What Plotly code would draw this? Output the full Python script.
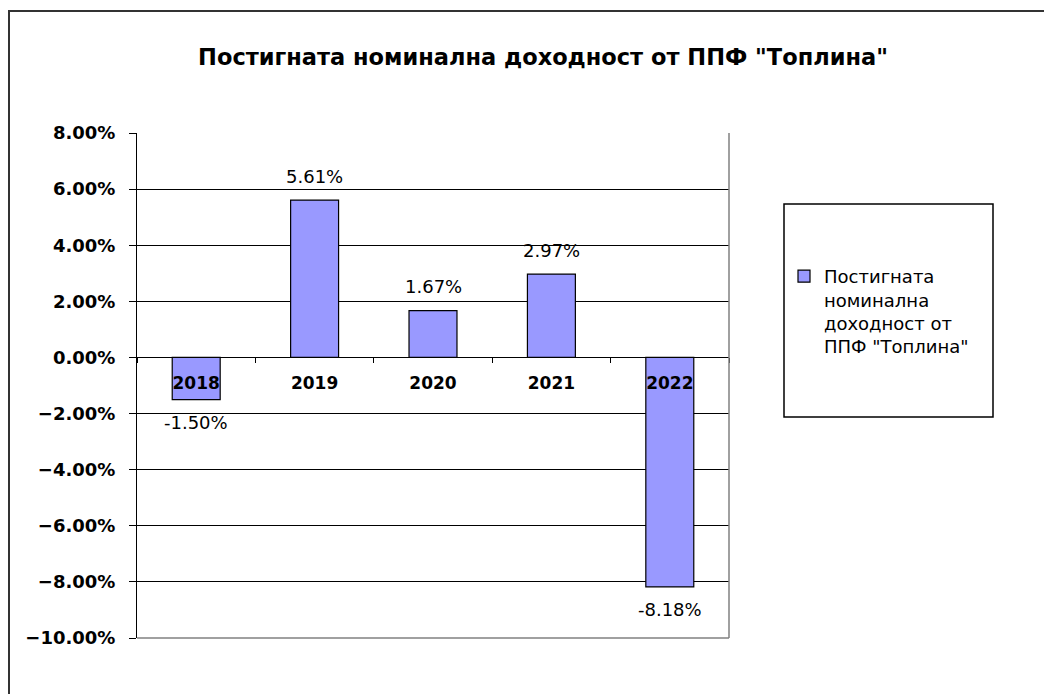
import plotly.graph_objects as go

# ---- data ----
categories = ["2018", "2019", "2020", "2021", "2022"]
values = [-1.50, 5.61, 1.67, 2.97, -8.18]
value_labels = ["-1.50%", "5.61%", "1.67%", "2.97%", "-8.18%"]
legend_label = 'Постигната<br>номинална<br>доходност от<br>ППФ "Топлина"'
title_text = 'Постигната номинална доходност от ППФ "Топлина"'
y_range = [-10, 8]

W, H = 1044, 694
L, R, T, B = 137, 315, 133, 56
PW, PH = W - L - R, H - T - B

def px(x):
    return (x - L) / PW

def py(y):
    return (H - B - y) / PH

FONT = "DejaVu Sans, Verdana, sans-serif"

fig = go.Figure()
fig.add_trace(go.Bar(
    x=categories, y=values, name=legend_label,
    width=0.405,
    marker=dict(color="#9999FF", line=dict(color="#000000", width=1.2)),
    showlegend=True,
))

# category axis: annotations addressed by category index (numeric-looking names)
for i, (v, t) in enumerate(zip(values, value_labels)):
    fig.add_annotation(
        x=i, y=v, text=t, showarrow=False, xref="x", yref="y",
        xanchor="center", yanchor="middle", yshift=(24 if v >= 0 else -23),
        font=dict(family=FONT, size=18, color="#000000"),
    )

zero_pos = (0 - y_range[0]) / (y_range[1] - y_range[0])

fig.update_layout(
    width=W, height=H,
    margin=dict(l=L, r=R, t=T, b=B, pad=0),
    paper_bgcolor="white", plot_bgcolor="white",
    title=dict(text="<b>" + title_text + "</b>", xref="container", yref="container",
               x=543 / W, xanchor="center",
               y=1 - 57 / H, yanchor="middle",
               font=dict(family=FONT, size=22.5, color="#000000")),
    font=dict(family=FONT, color="#000000"),
    xaxis=dict(
        type="category",
        categoryorder="array", categoryarray=categories,
        range=[-0.5, len(categories) - 0.5], autorange=False,
        anchor="free", position=zero_pos,
        showline=True, linecolor="#000000", linewidth=1,
        ticks="outside", tickson="boundaries", ticklen=5, tickcolor="#000000",
        ticklabelstandoff=10, tickangle=0,
        tickfont=dict(family=FONT, size=17, color="#000000", weight="bold"),
        showgrid=False, zeroline=False,
    ),
    yaxis=dict(
        range=y_range, autorange=False, dtick=2, tick0=0,
        tickformat=".2f", ticksuffix="%",
        showline=True, linecolor="#000000", linewidth=1,
        ticks="outside", ticklen=7, tickcolor="#000000",
        ticklabelstandoff=10,
        tickfont=dict(family=FONT, size=18, color="#000000", weight="bold"),
        showgrid=True, gridcolor="#000000", gridwidth=1,
        zeroline=False,
    ),
    legend=dict(
        x=px(784), y=py(258), xanchor="left", yanchor="top",
        bgcolor="rgba(0,0,0,0)", borderwidth=0, valign="top",
        font=dict(family=FONT, size=18, color="#000000"),
    ),
    shapes=[
        # outer chart border
        dict(type="rect", xref="paper", yref="paper",
             x0=px(9), x1=px(1060), y0=py(710), y1=py(11),
             line=dict(color="#333333", width=2), layer="below"),
        # plot area right/bottom border
        dict(type="line", xref="paper", yref="paper",
             x0=1, x1=1, y0=0, y1=1, line=dict(color="#808080", width=1.5)),
        dict(type="line", xref="paper", yref="paper",
             x0=0, x1=1, y0=0, y1=0, line=dict(color="#808080", width=1.5)),
        # legend box
        dict(type="rect", xref="paper", yref="paper",
             x0=px(784), x1=px(993), y0=py(417), y1=py(204),
             line=dict(color="#000000", width=1.5)),
    ],
)

fig.write_html("out.html")
